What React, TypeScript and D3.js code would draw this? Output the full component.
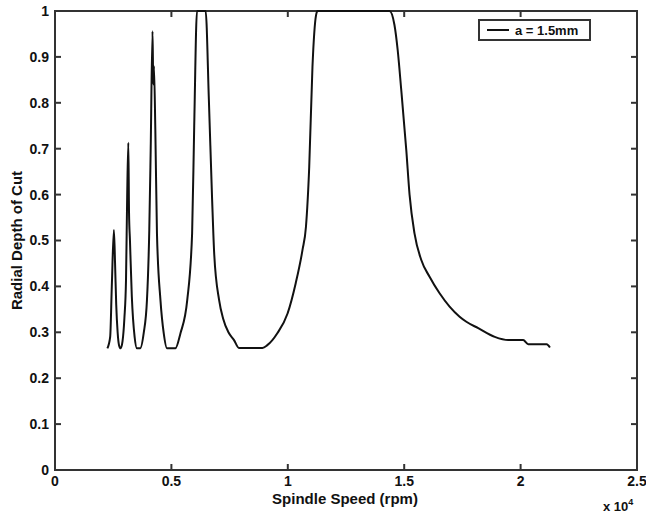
import * as d3 from "d3";
import React from "react";

// spindle speed (x 10^4 rpm)
const speed = [
  0.225, 0.237, 0.244, 0.253, 0.258, 0.263, 0.269, 0.275, 0.282,
  0.29, 0.298, 0.305, 0.31, 0.315, 0.318, 0.322, 0.33, 0.342, 0.352, 0.366,
  0.381, 0.395, 0.405, 0.411, 0.419, 0.422, 0.425, 0.431, 0.438, 0.453, 0.467, 0.481, 0.517,
  0.539, 0.568, 0.589, 0.598, 0.61, 0.625, 0.647, 0.661, 0.675, 0.684, 0.705, 0.722, 0.745, 0.769, 0.79, 0.891,
  0.912, 0.955, 0.999, 1.034, 1.063, 1.078, 1.092, 1.106, 1.121, 1.128, 1.2, 1.3, 1.437,
  1.458, 1.472, 1.487, 1.509, 1.523, 1.544, 1.573, 1.609, 1.652, 1.695, 1.738, 1.767, 1.818, 1.889,
  1.947, 2.011, 2.033, 2.112, 2.126
];
// radial depth of cut (fraction of diameter)
const depth = [
  0.265, 0.29, 0.4, 0.523, 0.45, 0.36, 0.3, 0.272, 0.265,
  0.28, 0.33, 0.414, 0.595, 0.713, 0.56, 0.5, 0.378, 0.29, 0.265, 0.265,
  0.298, 0.37, 0.523, 0.697, 0.956, 0.84, 0.88, 0.74, 0.515, 0.37, 0.298, 0.265, 0.265,
  0.298, 0.37, 0.516, 0.75, 1.0, 1.0, 1.0, 0.806, 0.588, 0.47, 0.37, 0.33, 0.3, 0.283, 0.266, 0.266,
  0.272, 0.298, 0.341, 0.407, 0.479, 0.53, 0.66, 0.879, 0.99, 1.0, 1.0, 1.0, 1.0,
  0.97, 0.915, 0.83, 0.697, 0.6, 0.516, 0.458, 0.421, 0.385, 0.356, 0.334, 0.323, 0.309, 0.29,
  0.283, 0.283, 0.274, 0.274, 0.267
];

const xTicks = [0, 0.5, 1, 1.5, 2, 2.5];
const yTicks = [0, 0.1, 0.2, 0.3, 0.4, 0.5, 0.6, 0.7, 0.8, 0.9, 1];
const legendLabel = "a = 1.5mm";

export default function App() {
  const WIDTH = 646;
  const HEIGHT = 515;
  const margin = { top: 11, right: 9, bottom: 45, left: 55 };
  const innerW = WIDTH - margin.left - margin.right;
  const innerH = HEIGHT - margin.top - margin.bottom;

  const x = d3.scaleLinear().domain([0, 2.5]).range([0, innerW]);
  const y = d3.scaleLinear().domain([0, 1]).range([innerH, 0]);

  const pts = speed.map((s, i) => [s, depth[i]] as [number, number]);
  const line = d3
    .line<[number, number]>()
    .x(d => x(d[0]))
    .y(d => y(Math.min(d[1], 1)))
    .curve(d3.curveMonotoneX);

  const axisColor = "#333";
  const font = "Liberation Sans, Arial, sans-serif";

  return (
    <svg
      width={WIDTH}
      height={HEIGHT}
      style={{ position: "absolute", left: 0, top: 0, background: "#fff" }}
      fontFamily={font}
    >
      <g transform={`translate(${margin.left},${margin.top})`}>
        <rect x={0} y={0} width={innerW} height={innerH} fill="none" stroke={axisColor} strokeWidth={2} />

        {/* x ticks, bottom and top */}
        {xTicks.map((t, i) => (
          <g key={i}>
            <line x1={x(t)} x2={x(t)} y1={innerH} y2={innerH - 6} stroke={axisColor} strokeWidth={2} />
            <line x1={x(t)} x2={x(t)} y1={0} y2={6} stroke={axisColor} strokeWidth={2} />
            <text x={x(t)} y={innerH + 16} fontSize={14} fontWeight="bold" textAnchor="middle" fill="#111">
              {t}
            </text>
          </g>
        ))}

        {/* y ticks, left and right */}
        {yTicks.map((t, i) => (
          <g key={i}>
            <line x1={0} x2={6} y1={y(t)} y2={y(t)} stroke={axisColor} strokeWidth={2} />
            <line x1={innerW} x2={innerW - 6} y1={y(t)} y2={y(t)} stroke={axisColor} strokeWidth={2} />
            <text x={-6} y={y(t)} dy="0.35em" fontSize={14} fontWeight="bold" textAnchor="end" fill="#111">
              {t}
            </text>
          </g>
        ))}

        <path d={line(pts) ?? ""} fill="none" stroke="#111" strokeWidth={2} strokeLinejoin="round" />

        {/* legend */}
        <g transform={`translate(${innerW - 158},${9})`}>
          <rect x={0} y={0} width={111} height={20} fill="#fff" stroke={axisColor} strokeWidth={2} />
          <line x1={8} x2={30} y1={10} y2={10} stroke="#111" strokeWidth={2} />
          <text x={36} y={10} dy="0.35em" fontSize={13} fontWeight="bold" fill="#111">
            {legendLabel}
          </text>
        </g>
      </g>

      <text
        x={WIDTH / 2 + 22}
        y={HEIGHT - 11}
        fontSize={15}
        fontWeight="bold"
        textAnchor="middle"
        fill="#111"
      >
        Spindle Speed (rpm)
      </text>
      <text x={603} y={HEIGHT - 4} fontSize={13} fontWeight="bold" fill="#111">
        x 10<tspan dy={-6} fontSize={9}>4</tspan>
      </text>
      <text
        transform={`translate(22,${margin.top + innerH / 2}) rotate(-90)`}
        fontSize={15}
        fontWeight="bold"
        textAnchor="middle"
        fill="#111"
      >
        Radial Depth of Cut
      </text>
    </svg>
  );
}
